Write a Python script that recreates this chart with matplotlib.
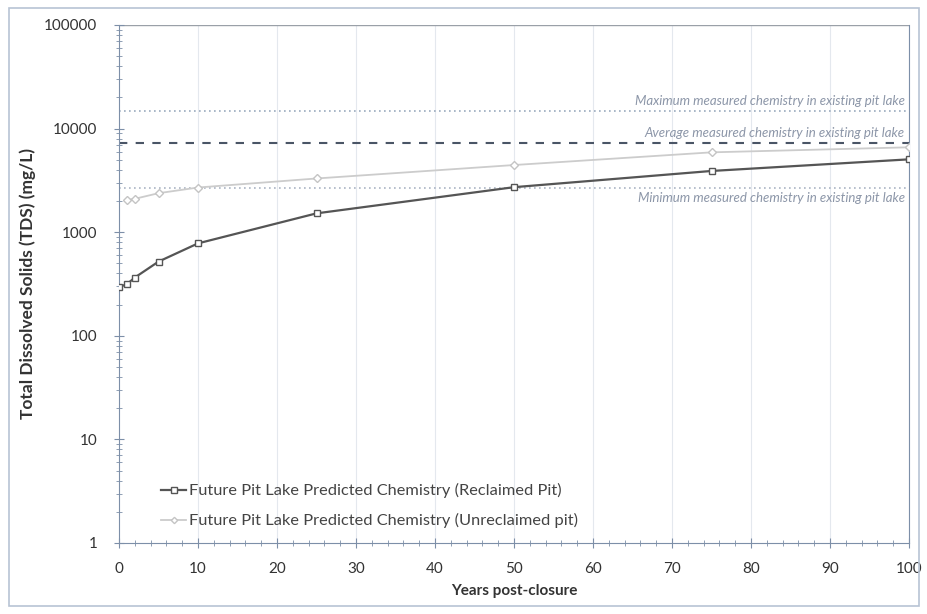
import matplotlib
matplotlib.use("Agg")
import matplotlib.pyplot as plt
from matplotlib.patches import Rectangle
from matplotlib.ticker import LogLocator, NullFormatter, MultipleLocator

plt.rcParams['font.family'] = ['Lato', 'DejaVu Sans']

years = [0, 1, 2, 5, 10, 25, 50, 75, 100]
reclaimed = [295, 315, 365, 520, 780, 1520, 2720, 3900, 5050]
unreclaimed_years = [1, 2, 5, 10, 25, 50, 75, 100]
unreclaimed = [2050, 2100, 2380, 2700, 3300, 4450, 5900, 6600]
max_measured = 14800
avg_measured = 7200
min_measured = 2700

label_reclaimed = "Future Pit Lake Predicted Chemistry (Reclaimed Pit)"
label_unreclaimed = "Future Pit Lake Predicted Chemistry (Unreclaimed pit)"
txt_max = "Maximum measured chemistry in existing pit lake"
txt_avg = "Average measured chemistry in existing pit lake"
txt_min = "Minimum measured chemistry in existing pit lake"

fig = plt.figure(figsize=(9.27, 6.14), dpi=100)
ax = fig.add_axes([119/927, 1-543/614, 790/927, 518/614])

ax.set_yscale('log')
ax.set_xlim(0, 100)
ax.set_ylim(1, 100000)

for x in range(10, 101, 10):
    ax.axvline(x, color='#e4e8ee', lw=0.8, zorder=0)
ax.axhline(100000, color='#9aa0a8', lw=1.0, zorder=1)

ax.axhline(max_measured, color='#9aaabd', lw=1.2, ls=(0, (1, 2)), zorder=2)
ax.axhline(avg_measured, color='#4a5566', lw=1.5, ls=(0, (4, 4)), zorder=2)
ax.axhline(min_measured, color='#aab4c4', lw=1.2, ls=(0, (1, 2)), zorder=2)

ax.plot(unreclaimed_years, unreclaimed, color='#cccccc', lw=1.3, marker='D', ms=4,
        mfc='white', mec='#c4c4c4', label=label_unreclaimed, zorder=3)
ax.plot(years, reclaimed, color='#555555', lw=1.6, marker='s', ms=5,
        mfc='white', mec='#555555', label=label_reclaimed, zorder=4)

tkw = dict(ha='right', fontsize=9.5, style='italic', color='#8c96a8')
ax.text(99.5, max_measured * 1.10, txt_max, va='bottom', **tkw)
ax.text(99.5, avg_measured * 1.10, txt_avg, va='bottom', **tkw)
ax.text(99.5, min_measured * 0.90, txt_min, va='top', **tkw)

ax.set_yticks([1, 10, 100, 1000, 10000, 100000])
ax.set_yticklabels(['1', '10', '100', '1000', '10000', '100000'])
ax.yaxis.set_minor_locator(LogLocator(base=10, subs=range(2, 10)))
ax.yaxis.set_minor_formatter(NullFormatter())
ax.set_xticks(range(0, 101, 10))
ax.xaxis.set_minor_locator(MultipleLocator(2))

ax.spines['top'].set_visible(False)
for s in ['right', 'left', 'bottom']:
    ax.spines[s].set_color('#7d8fa8')

ax.tick_params(axis='both', which='major', labelsize=11, labelcolor='#333333',
               color='#7d8fa8', direction='inout', length=7)
ax.tick_params(axis='x', which='major', pad=10)
ax.tick_params(axis='y', which='major', pad=12)
ax.tick_params(axis='both', which='minor', color='#7d8fa8', direction='inout', length=4)
ax.tick_params(axis='y', which='both', right=False)

ax.set_xlabel('Years post-closure', fontsize=11, fontweight='bold', color='#333333', labelpad=6)
ax.set_ylabel('Total Dissolved Solids (TDS) (mg/L)', fontsize=12.5, fontweight='bold',
              color='#333333', labelpad=6)

handles, labels = ax.get_legend_handles_labels()
leg = ax.legend(handles[::-1], labels[::-1], loc='lower left', bbox_to_anchor=(0.035, 0.0),
                frameon=False, fontsize=11.8, labelspacing=0.9, handlelength=1.5,
                handletextpad=0.2, markerscale=0.8)
for t in leg.get_texts():
    t.set_color('#444444')

fig.patches.append(Rectangle((9/927, 8/614), 910/927, 598/614, transform=fig.transFigure,
                             fill=False, ec='#b8c4d4', lw=1.2))

fig.savefig('out.png', dpi=100)
